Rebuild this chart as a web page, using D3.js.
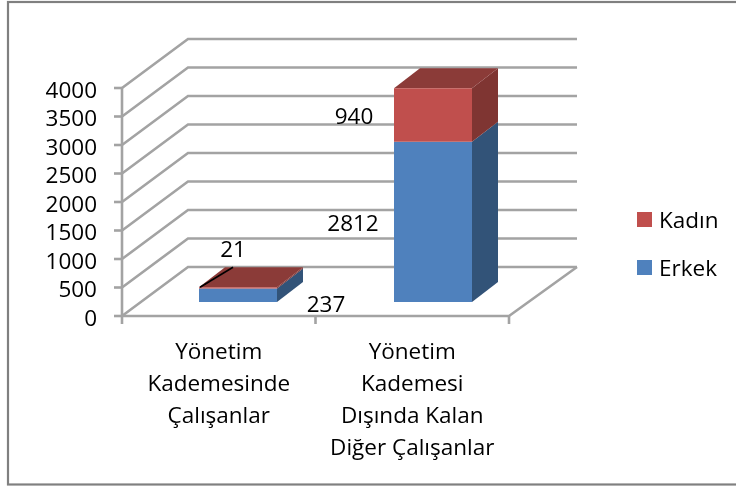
<!DOCTYPE html>
<html><head><meta charset="utf-8">
<script src="https://cdn.jsdelivr.net/npm/d3@7"></script>
<style>html,body{margin:0;padding:0;background:#fff}svg{display:block}text{font-family:"Open Sans",Lato,sans-serif;fill:#000}</style>
</head><body><svg id="c" width="736" height="486"></svg>
<script>
const categories = ["Yönetim Kademesinde Çalışanlar", "Yönetim Kademesi Dışında Kalan Diğer Çalışanlar"];
const categoryLines = [["Yönetim","Kademesinde","Çalışanlar"],["Yönetim","Kademesi","Dışında Kalan","Diğer Çalışanlar"]];
const erkek = [237, 2812];
const kadin = [21, 940];
const yTicks = [0,500,1000,1500,2000,2500,3000,3500,4000];
const legendItems = [["Kadın","#c0504d"],["Erkek","#4f81bd"]];

const svg = d3.select("#c");
const grid = "#a3a3a3", fs = 22.5;
const defs = svg.append("defs");
defs.append("filter").attr("id","soft").append("feGaussianBlur").attr("stdDeviation",0.35);
const root = svg.append("g").attr("filter","url(#soft)");
root.append("rect").attr("x",8).attr("y",2).attr("width",760).attr("height",482.5)
  .attr("fill","#fff").attr("stroke","#808080").attr("stroke-width",2.2);

const y = d3.scaleLinear().domain([0,4000]).range([316,88]);
const xAxis = d3.scaleBand().domain(categories).range([122,509]);
const xBar = d3.scalePoint().domain(categories).range([238,433]);
const wallDx = 66, wallDy = -49, floorRight = 577, barW = 78, barDx = 26, barDy = -20, barLift = 14;

const g = root.append("g").attr("fill","none").attr("stroke",grid).attr("stroke-width",2.6);
yTicks.forEach(t=>{
  const v=y(t);
  g.append("path").attr("d",d3.line()([[122,v],[122+wallDx,v+wallDy],[floorRight,v+wallDy]]));
  g.append("line").attr("x1",114).attr("x2",122).attr("y1",v).attr("y2",v);
});
g.append("line").attr("x1",122).attr("x2",122).attr("y1",y(4000)).attr("y2",y(0));
g.append("path").attr("d",d3.line()([[122,y(0)],[xAxis.range()[1],y(0)],[floorRight,y(0)+wallDy]]));
const edges = [xAxis.range()[0], xAxis(categories[1]), xAxis.range()[1]];
edges.forEach(e=>g.append("line").attr("x1",e).attr("x2",e).attr("y1",y(0)).attr("y2",324));

const poly = (pts,fill)=>root.append("polygon").attr("points",pts.map(p=>p.join(",")).join(" ")).attr("fill",fill);
const h = v=>y(0)-y(v);
categories.forEach((c,i)=>{
  const l=xBar(c)-barW/2, r=l+barW, b=y(0)-barLift;
  const m=b-h(erkek[i]), t=m-h(kadin[i]);
  poly([[r,b],[r+barDx,b+barDy],[r+barDx,m+barDy],[r,m]],"#335278");
  poly([[r,m],[r+barDx,m+barDy],[r+barDx,t+barDy],[r,t]],"#7f3432");
  poly([[l,t],[l+barDx,t+barDy],[r+barDx,t+barDy],[r,t]],"#8b3a38");
  poly([[l,b],[r,b],[r,m],[l,m]],"#4f81bd");
  poly([[l,m],[r,m],[r,t],[l,t]],"#c0504d");
});
const lx=xBar(categories[0])-barW/2+1, ly=y(0)-barLift-h(erkek[0])-h(kadin[0]);
root.append("line").attr("x1",lx).attr("y1",ly).attr("x2",lx+33).attr("y2",ly-20).attr("stroke","#000").attr("stroke-width",1.6);

const text=(s,x,yy,a)=>root.append("text").attr("x",x).attr("y",yy).attr("text-anchor",a||"middle")
  .attr("dominant-baseline","central").attr("font-size",fs).text(s);
yTicks.forEach(t=>text(t,97,y(t)+1,"end"));
categoryLines.forEach((ls,i)=>ls.forEach((s,j)=>text(s,xAxis(categories[i])+xAxis.bandwidth()/2,350+j*32.2)));
text(kadin[0],233,248); text(erkek[0],326,303); text(erkek[1],353,222); text(kadin[1],354,115);
legendItems.forEach((d,i)=>{
  const yy=212+i*48;
  root.append("rect").attr("x",637).attr("y",yy).attr("width",15).attr("height",15).attr("fill",d[1]);
  text(d[0],659,yy+7,"start");
});
</script></body></html>
